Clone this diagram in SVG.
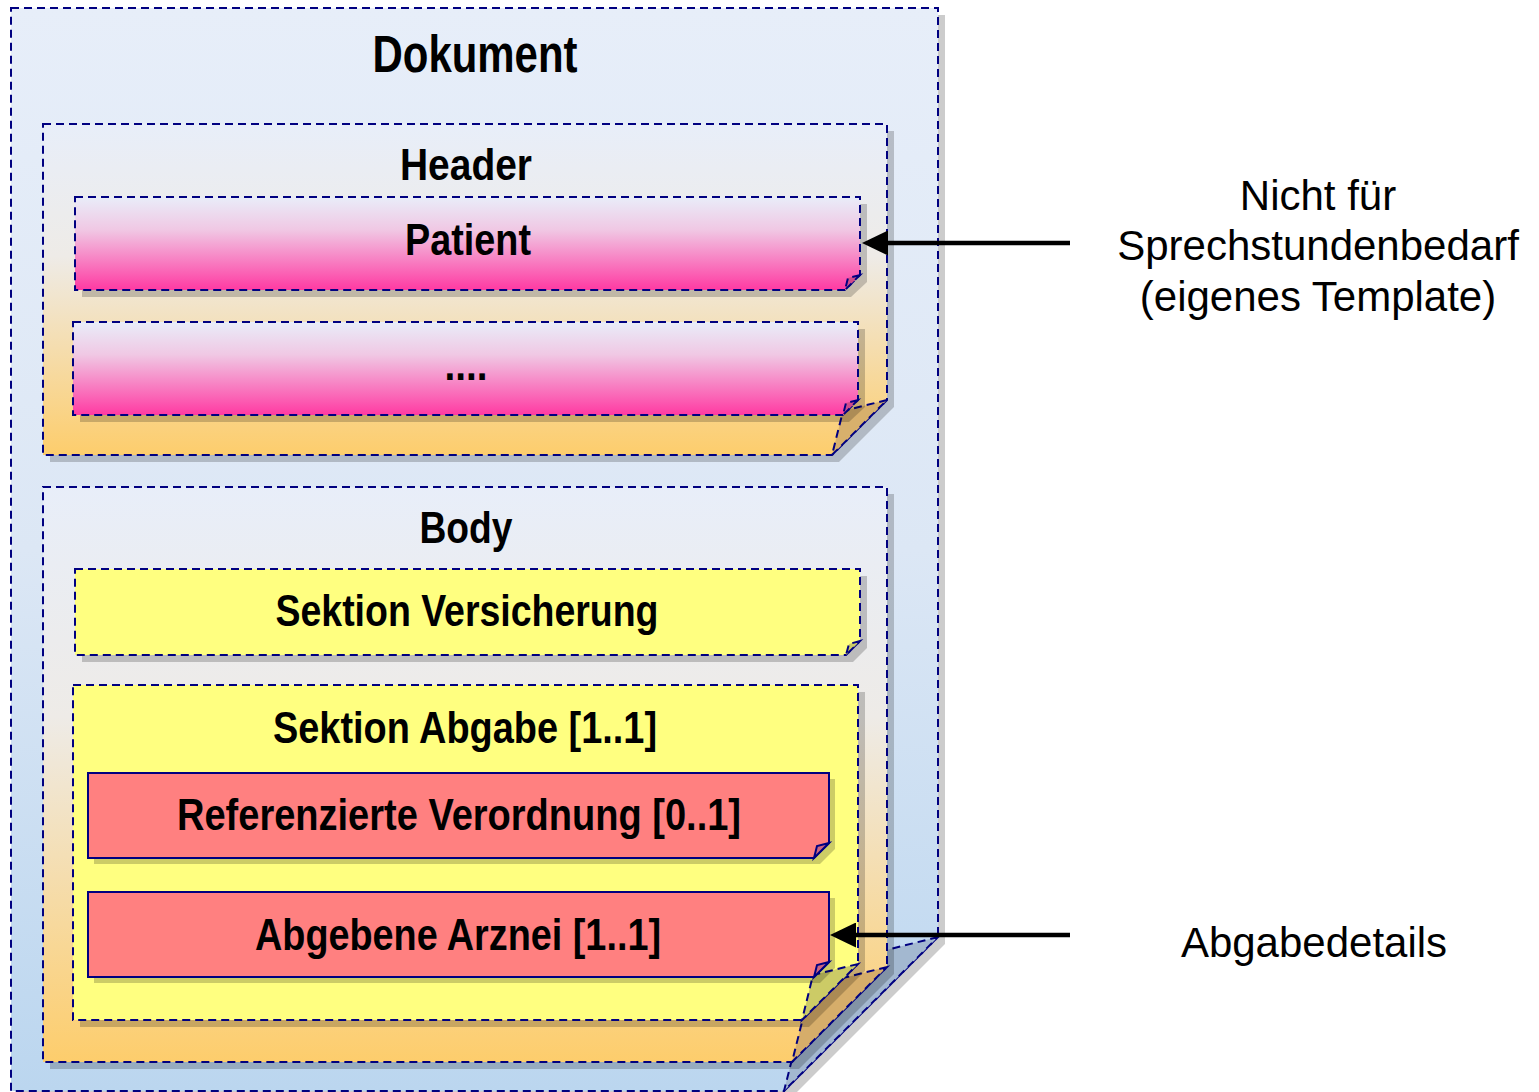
<svg xmlns="http://www.w3.org/2000/svg" width="1539" height="1092" viewBox="0 0 1539 1092">
<defs>
<linearGradient id="gDoc" x1="0" y1="0" x2="0" y2="1"><stop offset="0" stop-color="#e7eef9"/><stop offset="0.5" stop-color="#dce7f5"/><stop offset="1" stop-color="#bbd6ef"/></linearGradient>
<linearGradient id="gOrange" x1="0" y1="0" x2="0" y2="1"><stop offset="0" stop-color="#e8eef9"/><stop offset="0.4" stop-color="#eeebe7"/><stop offset="1" stop-color="#fdcd6c"/></linearGradient>
<linearGradient id="gPink" x1="0" y1="0" x2="0" y2="1"><stop offset="0" stop-color="#e9edf9"/><stop offset="0.35" stop-color="#f0c8e4"/><stop offset="1" stop-color="#ff3aa2"/></linearGradient>
<marker id="ah" markerUnits="userSpaceOnUse" markerWidth="26" markerHeight="25" refX="13" refY="12.5" orient="auto"><path d="M0,0 L26,12.5 L0,25 Z" fill="#000"/></marker>
<style>
.sh{fill:#000;fill-opacity:0.2;stroke:none}
.dash{stroke:#000080;stroke-width:2;stroke-dasharray:8 5}
.solid{stroke:#000080;stroke-width:2}
.t{font-family:"Liberation Sans",Arial,sans-serif;font-weight:bold;text-anchor:middle;fill:#000}
.lbl{font-family:"Liberation Sans",Arial,sans-serif;font-size:42px;text-anchor:middle;fill:#000}
.conn{stroke:#000;stroke-width:4.5;fill:none}
</style>
</defs>

<g id="dokument">
<path class="sh" d="M18,15 H945 V944 L791,1098 H18 Z"/>
<path fill="url(#gDoc)" class="dash" d="M11,8 H938 V937 L784,1091 H11 Z"/>
<path fill="#a3b8d0" class="dash" d="M938,937 L815,968 L784,1091 Z"/>
<text class="t" x="475" y="72" font-size="51" textLength="205" lengthAdjust="spacingAndGlyphs">Dokument</text>
</g>

<g id="header">
<path class="sh" d="M50,131 H894 V407 L839,462 H50 Z"/>
<path fill="url(#gOrange)" class="dash" d="M43,124 H887 V400 L832,455 H43 Z"/>
<path fill="#d8b06c" class="dash" d="M887,400 L843,411 L832,455 Z"/>
<text class="t" x="466" y="180" font-size="44" textLength="132" lengthAdjust="spacingAndGlyphs">Header</text>
</g>

<g id="patient">
<path class="sh" d="M82,204 H867 V282 L851,297 H82 Z"/>
<path fill="url(#gPink)" class="dash" d="M75,197 H860 V275 L845,290 H75 Z"/>
<path fill="#d04a8a" class="dash" d="M860,275 L848,278 L845,290 Z"/>
<text class="t" x="468" y="255" font-size="44" textLength="126" lengthAdjust="spacingAndGlyphs">Patient</text>
</g>

<g id="weitere">
<path class="sh" d="M80,329 H865 V407 L849,422 H80 Z"/>
<path fill="url(#gPink)" class="dash" d="M73,322 H858 V400 L843,415 H73 Z"/>
<path fill="#d04a8a" class="dash" d="M858,400 L846,403 L843,415 Z"/>
<text class="t" x="466" y="380" font-size="44" textLength="43" lengthAdjust="spacingAndGlyphs">....</text>
</g>

<g id="body">
<path class="sh" d="M50,494 H894 V974 L799,1069 H50 Z"/>
<path fill="url(#gOrange)" class="dash" d="M43,487 H887 V967 L792,1062 H43 Z"/>
<path fill="#d6ad6a" class="dash" d="M887,967 L811,986 L792,1062 Z"/>
<text class="t" x="466" y="543" font-size="44" textLength="93" lengthAdjust="spacingAndGlyphs">Body</text>
</g>

<g id="sektion-versicherung">
<path class="sh" d="M82,576 H867 V648 L853,662 H82 Z"/>
<path fill="#ffff80" class="dash" d="M75,569 H860 V641 L846,655 H75 Z"/>
<path fill="#cccc66" class="dash" d="M860,641 L849,644 L846,655 Z"/>
<text class="t" x="467" y="626" font-size="44" textLength="383" lengthAdjust="spacingAndGlyphs">Sektion Versicherung</text>
</g>

<g id="sektion-abgabe">
<path class="sh" d="M80,692 H865 V971 L809,1027 H80 Z"/>
<path fill="#ffff80" class="dash" d="M73,685 H858 V964 L802,1020 H73 Z"/>
<path fill="#cccb66" class="dash" d="M858,964 L813,975 L802,1020 Z"/>
<text class="t" x="465" y="743" font-size="44" textLength="384" lengthAdjust="spacingAndGlyphs">Sektion Abgabe [1..1]</text>
</g>

<g id="referenzierte-verordnung">
<path class="sh" d="M94,779 H835 V849 L820,864 H94 Z"/>
<path fill="#ff8080" class="solid" d="M88,773 H829 V843 L814,858 H88 Z"/>
<path fill="#cc6680" class="solid" d="M829,843 L817,846 L814,858 Z"/>
<text class="t" x="459" y="830" font-size="44" textLength="564" lengthAdjust="spacingAndGlyphs">Referenzierte Verordnung [0..1]</text>
</g>

<g id="abgebene-arznei">
<path class="sh" d="M94,898 H835 V968 L820,983 H94 Z"/>
<path fill="#ff8080" class="solid" d="M88,892 H829 V962 L814,977 H88 Z"/>
<path fill="#cc6680" class="solid" d="M829,962 L817,965 L814,977 Z"/>
<text class="t" x="458" y="950" font-size="44" textLength="406" lengthAdjust="spacingAndGlyphs">Abgebene Arznei [1..1]</text>
</g>

<g id="labels">
<text class="lbl" x="1318" y="210">Nicht für</text>
<text class="lbl" x="1318" y="260">Sprechstundenbedarf</text>
<text class="lbl" x="1318" y="311">(eigenes Template)</text>
<text class="lbl" x="1314" y="957">Abgabedetails</text>
</g>

<g id="connectors">
<line class="conn" x1="1070" y1="243" x2="875" y2="243" marker-end="url(#ah)"/>
<line class="conn" x1="1070" y1="935" x2="843" y2="935" marker-end="url(#ah)"/>
</g>
</svg>
